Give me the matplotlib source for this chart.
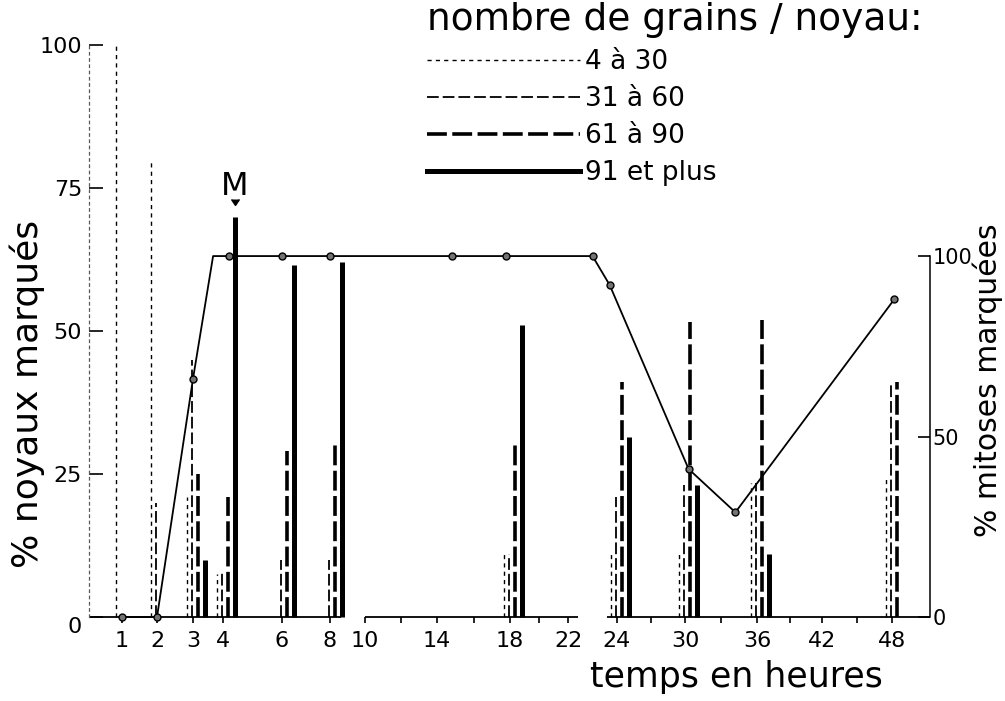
import numpy as np
import matplotlib.pyplot as plt
from matplotlib.lines import Line2D
from matplotlib.transforms import ScaledTranslation

# hours at which the grain counts were scored
heures = [1, 2, 3, 4, 6, 8, 18, 24, 30, 36, 48]
# % noyaux marqués per class of grains / noyau (left axis)
g_4_30 = [100, 80, 21, 7.5, 0, 0, 11, 11, 11, 23.5, 24.5]
g_31_60 = [0, 20, 45, 8, 10, 10, 11, 21, 23, 23.5, 41]
g_61_90 = [0, 0, 25, 21, 29, 30, 30, 41, 51.5, 52, 41]
g_91_plus = [0, 0, 10, 70, 61.5, 62, 51, 31.5, 23, 11, 0]

# % mitoses marquées (right axis)
mit_t = [1, 2, 3, 3.67, 4.2, 6, 8, 14.8, 17.8, 23, 23.7, 30.3, 34.2, 48.2]
mit_v = [0, 0, 66, 100, 100, 100, 100, 100, 100, 100, 92, 41, 29, 88]

tick_h = [1, 2, 3, 4, 6, 8, 10, 14, 18, 22, 24, 30, 36, 42, 48]
minor_h = [12, 16, 20, 27, 33, 39, 45]

# the time axis is drawn piecewise: knots hours -> pixel positions
knot_h = [0] + tick_h + [51.4]
knot_px = [89, 122, 157, 193, 223, 282, 330, 365, 437, 510, 568,
           617, 685, 757, 822, 892, 930]


def fwd(h):
    return np.interp(h, knot_h, knot_px)


def inv(p):
    return np.interp(p, knot_px, knot_h)


classes = [
    ("4 à 30", g_4_30, dict(lw=1.0, ls=(0, (3, 3)))),
    ("31 à 60", g_31_60, dict(lw=1.3, ls=(0, (6.5, 2.2)))),
    ("61 à 90", g_61_90, dict(lw=2.6, ls=(0, (5.5, 1.5)))),
    ("91 et plus", g_91_plus, dict(lw=3.6, ls="-")),
]
offsets_px = [-6, -1, 5, 12]

fig = plt.figure(figsize=(10.05, 7.01), dpi=100)
ax = fig.add_axes([89 / 1005, 84 / 701, 841 / 1005, 572 / 701])
ax.set_xscale("function", functions=(fwd, inv))
ax.set_xlim(0, 51.4)
ax.set_ylim(0, 100)

for (lab, vals, st), dx in zip(classes, offsets_px):
    v = np.array(vals, dtype=float)
    h = np.array(heures, dtype=float)
    keep = v > 0
    tr = ax.transData + ScaledTranslation(dx / 100, 0, fig.dpi_scale_trans)
    ax.vlines(h[keep], 0, v[keep], colors="k", linewidth=st["lw"],
              linestyles=[st["ls"]], transform=tr, clip_on=False)

# "M" mark over the tallest bar
i4 = heures.index(4)
trM = ax.transData + ScaledTranslation(offsets_px[3] / 100, 0, fig.dpi_scale_trans)
ax.text(4, g_91_plus[i4] + 5.3, "M", transform=trM, ha="center", va="center",
        fontsize=23)
ax.plot([4], [g_91_plus[i4] + 2], marker=7, ms=6, color="k", transform=trM,
        clip_on=False)

# broken time axis
ax.hlines([0, 0, 0], [0, 10, 23.6], [8.6, 22.4, 51.4], colors="k", lw=1.3,
          clip_on=False)

for s in ["top", "bottom", "right"]:
    ax.spines[s].set_visible(False)
ax.spines["left"].set_linestyle((0, (2, 3)))
ax.spines["left"].set_color("0.35")
ax.spines["left"].set_linewidth(0.9)

ax.set_xticks(tick_h)
ax.set_xticklabels([str(t) for t in tick_h])
ax.set_xticks(minor_h, minor=True)
ax.tick_params(axis="x", which="both", direction="out", length=4, width=1.2,
               labelsize=16, pad=6)
ax.set_yticks([0, 25, 50, 75, 100])
ax.tick_params(axis="y", direction="in", length=10, width=1.2, labelsize=16,
               pad=5)
ax.yaxis.get_major_ticks()[0].label1.set_verticalalignment("top")

ax.set_ylabel("% noyaux marqués", fontsize=26)
ax.yaxis.set_label_coords(-0.052, 0.39)
ax.set_xlabel("temps en heures", fontsize=25)
ax.xaxis.set_label_coords(0.770, -0.075)

# mitoses on the right axis
ax2 = ax.twinx()
ax2.set_ylim(0, 100 / 0.631)
marks = [i for i in range(len(mit_t)) if i != 3]
ax2.plot(mit_t, mit_v, color="k", lw=1.3, marker="o", ms=5, mfc="0.45",
         mec="k", mew=1, markevery=marks, clip_on=False)
for s in ["top", "bottom", "left"]:
    ax2.spines[s].set_visible(False)
ax2.spines["right"].set_bounds(0, 100)
ax2.spines["right"].set_linewidth(1.1)
ax2.set_yticks([0, 50, 100])
ax2.tick_params(axis="y", direction="in", length=9, width=1.2, labelsize=15,
                pad=2)
ax2.set_ylabel("% mitoses marquées", fontsize=21.5, rotation=90)
ax2.yaxis.set_label_coords(1.050, 0.414)

handles = [Line2D([], [], color="k", lw=st["lw"], ls=st["ls"]) for _, _, st in classes]
fig.legend(handles, [c[0] for c in classes], loc="upper left",
           bbox_to_anchor=(427 / 1005, 1 - 2 / 701), frameon=False,
           title="nombre de grains / noyau:", title_fontproperties={"size": 27},
           alignment="left", fontsize=19, handlelength=5.8, handletextpad=0.2,
           labelspacing=0.42, borderpad=0, borderaxespad=0)

fig.savefig("out.png", dpi=100)
